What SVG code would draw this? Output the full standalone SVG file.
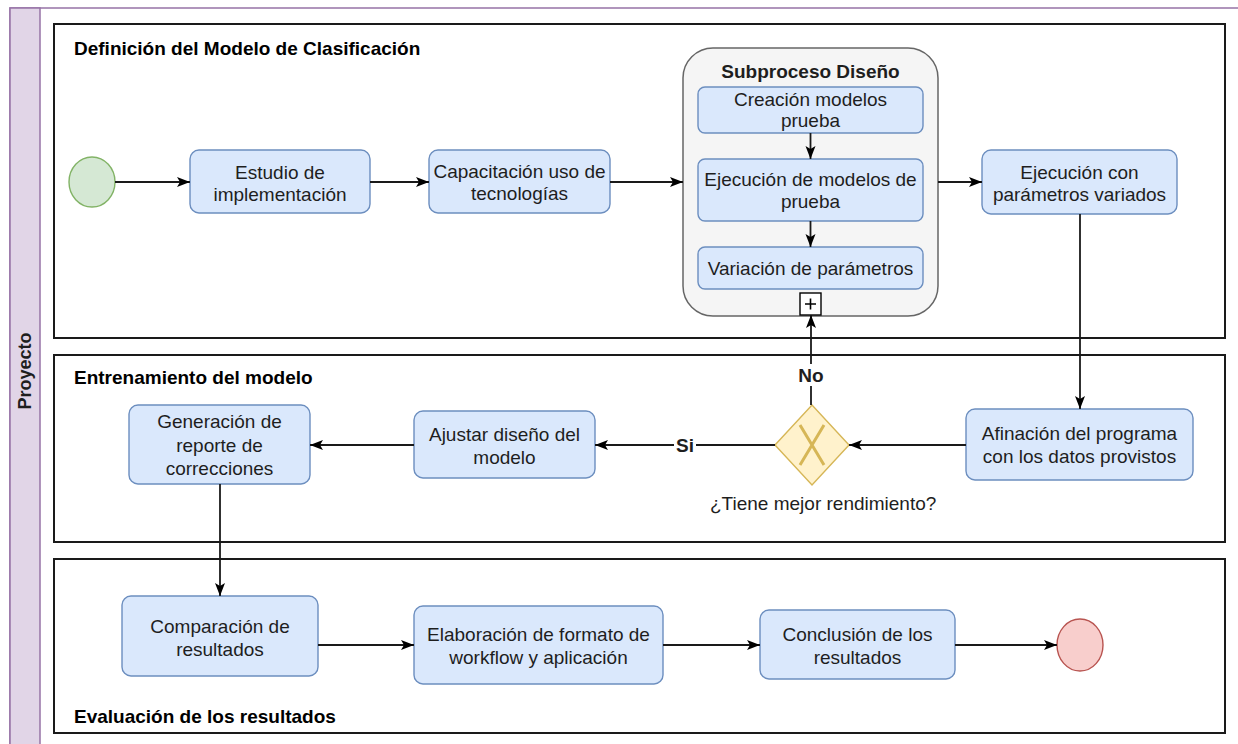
<svg xmlns="http://www.w3.org/2000/svg" width="1238" height="744" viewBox="0 0 1238 744">
  <style>
    text { font-family: "Liberation Sans", Arial, sans-serif; fill: #1e1e1e; }
    .t { font-size: 19px; text-anchor: middle; }
    .lbl { font-size: 19px; font-weight: bold; fill: #000; }
    .b { font-weight: bold; }
    .task { fill: #dae8fc; stroke: #6c8ebf; stroke-width: 1.4; }
    .lane { fill: #ffffff; stroke: #1a1a1a; stroke-width: 2; }
    .edge { fill: none; stroke: #1a1a1a; stroke-width: 1.8; }
    .arrow { marker-end: url(#head); }
  </style>
  <defs>
    <marker id="head" markerUnits="userSpaceOnUse" markerWidth="14" markerHeight="12" refX="13" refY="5" orient="auto" viewBox="0 0 14 10">
      <path d="M0,0 L13,5 L0,10 L3,5 Z" fill="#000"/>
    </marker>
  </defs>

  <rect width="1238" height="744" fill="#ffffff"/>

  <!-- Pool -->
  <g id="pool">
    <rect x="10" y="8" width="1240" height="750" fill="#ffffff" stroke="#9673a6" stroke-width="1.5"/>
    <rect x="10" y="8" width="30" height="750" fill="#e1d5e7" stroke="#9673a6" stroke-width="1.5"/>
    <text class="b" font-size="18" text-anchor="middle" transform="translate(31,371) rotate(-90)">Proyecto</text>
  </g>

  <!-- Lanes -->
  <g id="lane-definicion">
    <rect class="lane" x="54" y="24" width="1171" height="314"/>
    <text class="lbl" x="74" y="55">Definición del Modelo de Clasificación</text>
  </g>
  <g id="lane-entrenamiento">
    <rect class="lane" x="54" y="355" width="1171" height="187"/>
    <text class="lbl" x="74" y="384">Entrenamiento del modelo</text>
  </g>
  <g id="lane-evaluacion">
    <rect class="lane" x="54" y="559" width="1171" height="174"/>
    <text class="lbl" x="74" y="723">Evaluación de los resultados</text>
  </g>

  <!-- Nodes -->
  <g id="start">
    <ellipse cx="92" cy="182" rx="23" ry="25" fill="#d5e8d4" stroke="#82b366" stroke-width="1.4"/>
  </g>
  <g id="estudio">
    <rect class="task" x="190" y="150" width="180" height="63" rx="9"/>
    <text class="t" x="280" y="179">Estudio de</text>
    <text class="t" x="280" y="201">implementación</text>
  </g>
  <g id="capacitacion">
    <rect class="task" x="429" y="150" width="181" height="63" rx="9"/>
    <text class="t" x="519.5" y="178">Capacitación uso de</text>
    <text class="t" x="519.5" y="200">tecnologías</text>
  </g>

  <g id="subproceso">
    <rect x="683" y="48" width="255" height="268" rx="30" fill="#f5f5f5" stroke="#666666" stroke-width="1.5"/>
    <text class="b" font-size="19" text-anchor="middle" x="810.5" y="78">Subproceso Diseño</text>
    <rect x="800" y="293" width="21" height="22" fill="#ffffff" stroke="#000" stroke-width="1.4"/>
    <path d="M805,304 H816 M810.5,298.5 V309.5" stroke="#000" stroke-width="1.6"/>
  </g>
  <g id="creacion">
    <rect class="task" x="698" y="87" width="225" height="46" rx="7"/>
    <text class="t" x="810.5" y="106">Creación modelos</text>
    <text class="t" x="810.5" y="127">prueba</text>
  </g>
  <g id="ejecucion-prueba">
    <rect class="task" x="698" y="159" width="225" height="62" rx="7"/>
    <text class="t" x="810.5" y="186">Ejecución de modelos de</text>
    <text class="t" x="810.5" y="208">prueba</text>
  </g>
  <g id="variacion">
    <rect class="task" x="698" y="247" width="225" height="42" rx="7"/>
    <text class="t" x="810.5" y="275">Variación de parámetros</text>
  </g>

  <g id="ejecucion-variados">
    <rect class="task" x="982" y="150" width="195" height="64" rx="9"/>
    <text class="t" x="1079.5" y="179">Ejecución con</text>
    <text class="t" x="1079.5" y="201">parámetros variados</text>
  </g>

  <g id="afinacion">
    <rect class="task" x="966" y="409" width="227" height="71" rx="9"/>
    <text class="t" x="1079.5" y="440">Afinación del programa</text>
    <text class="t" x="1079.5" y="463">con los datos provistos</text>
  </g>
  <g id="gateway">
    <polygon points="775,445 812,405 849,445 812,485" fill="#fff2cc" stroke="#d6b656" stroke-width="1.4"/>
    <path d="M800,425 L824,465 M824,425 L800,465" stroke="#d6b656" stroke-width="3"/>
    <text font-size="19" x="710" y="510">¿Tiene mejor rendimiento?</text>
  </g>
  <g id="ajustar">
    <rect class="task" x="414" y="411" width="181" height="67" rx="9"/>
    <text class="t" x="504.5" y="441">Ajustar diseño del</text>
    <text class="t" x="504.5" y="464">modelo</text>
  </g>
  <g id="generacion">
    <rect class="task" x="129" y="405" width="181" height="79" rx="9"/>
    <text class="t" x="219.5" y="428">Generación de</text>
    <text class="t" x="219.5" y="452">reporte de</text>
    <text class="t" x="219.5" y="475">correcciones</text>
  </g>

  <g id="comparacion">
    <rect class="task" x="122" y="596" width="196" height="80" rx="9"/>
    <text class="t" x="220" y="633">Comparación de</text>
    <text class="t" x="220" y="656">resultados</text>
  </g>
  <g id="elaboracion">
    <rect class="task" x="414" y="606" width="249" height="78" rx="9"/>
    <text class="t" x="538.5" y="641">Elaboración de formato de</text>
    <text class="t" x="538.5" y="664">workflow y aplicación</text>
  </g>
  <g id="conclusion">
    <rect class="task" x="760" y="610" width="195" height="69" rx="9"/>
    <text class="t" x="857.5" y="641">Conclusión de los</text>
    <text class="t" x="857.5" y="664">resultados</text>
  </g>
  <g id="end">
    <ellipse cx="1080" cy="645" rx="23" ry="26" fill="#f8cecc" stroke="#b85450" stroke-width="1.4"/>
  </g>

  <!-- Connectors -->
  <g id="connectors">
    <path class="edge arrow" d="M115,182 H190"/>
    <path class="edge arrow" d="M370,182 H429"/>
    <path class="edge arrow" d="M610,182 H683"/>
    <path class="edge arrow" d="M810.5,133 V159"/>
    <path class="edge arrow" d="M810.5,221 V247"/>
    <path class="edge arrow" d="M938,182 H982"/>
    <path class="edge arrow" d="M1080,214 V409"/>
    <path class="edge arrow" d="M966,445 H849"/>
    <path class="edge arrow" d="M811,405 V315"/>
    <path class="edge arrow" d="M775,445 H595"/>
    <path class="edge arrow" d="M414,445 H310"/>
    <path class="edge arrow" d="M220,484 V596"/>
    <path class="edge arrow" d="M318,645 H414"/>
    <path class="edge arrow" d="M663,645 H760"/>
    <path class="edge arrow" d="M955,645 H1057"/>
    <rect x="798" y="364" width="26" height="22" fill="#ffffff"/>
    <text class="b" font-size="19" text-anchor="middle" x="811" y="382">No</text>
    <rect x="674" y="434" width="22" height="22" fill="#ffffff"/>
    <text class="b" font-size="19" text-anchor="middle" x="685" y="452">Si</text>
  </g>
</svg>
